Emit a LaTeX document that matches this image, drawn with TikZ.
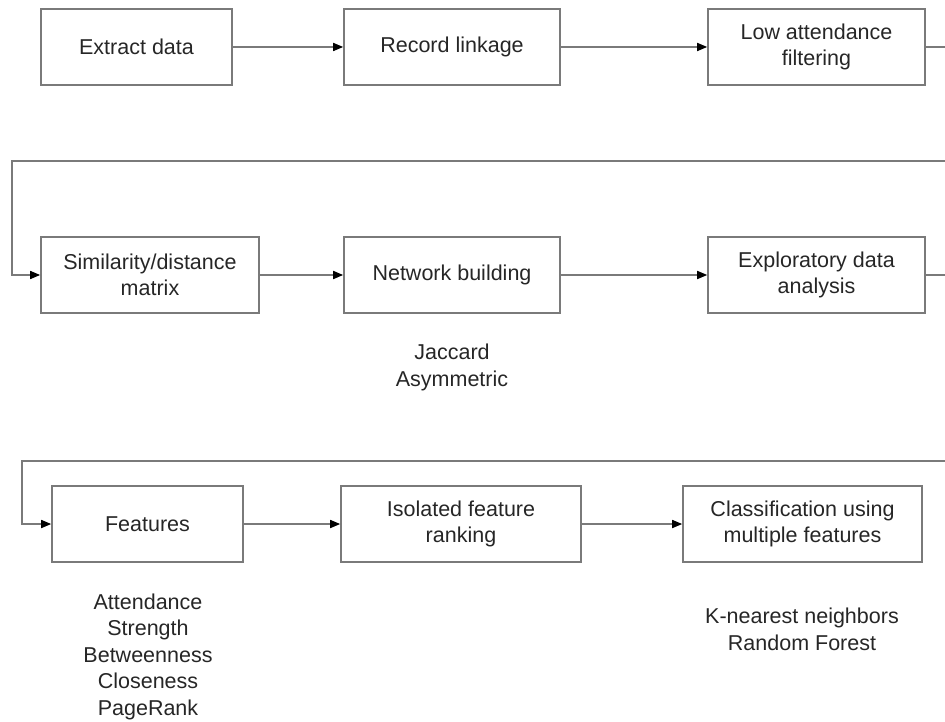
\documentclass[tikz,border=0pt]{standalone}
\usepackage{fontspec}
\setmainfont{Liberation Sans}
\usetikzlibrary{arrows.meta}
\definecolor{linegray}{HTML}{7A7A7A}
\begin{document}
\begin{tikzpicture}[x=1pt,y=-1pt,
  box/.style={draw=linegray,line width=1.6pt,minimum height=76pt,inner sep=0pt,align=center,
    font=\fontsize{21.5}{26.5}\selectfont,text=black!85},
  conn/.style={draw=linegray,line width=1.6pt},
  arr/.style={conn,-{Triangle[length=10pt,width=8pt,fill=black,color=black]}},
  lbl/.style={align=center,font=\fontsize{21.5}{26.5}\selectfont,text=black!85}]
\useasboundingbox (0,0) rectangle (945,722);
\clip (0,0) rectangle (945,722);
\node[box,minimum width=191pt] (b1) at (136.5,47) {Extract data};
\node[box,minimum width=216pt] (b2) at (452,47) {Record linkage};
\node[box,minimum width=217pt] (b3) at (816.5,47) {Low attendance\\filtering};
\node[box,minimum width=218pt] (b4) at (150,275) {Similarity/distance\\matrix};
\node[box,minimum width=216pt] (b5) at (452,275) {Network building};
\node[box,minimum width=217pt] (b6) at (816.5,275) {Exploratory data\\analysis};
\node[box,minimum width=191pt] (b7) at (147.5,524) {Features};
\node[box,minimum width=240pt] (b8) at (461,524) {Isolated feature\\ranking};
\node[box,minimum width=239pt] (b9) at (802.5,524) {Classification using\\multiple features};
\coordinate (r1) at (965,47);
\coordinate (l1) at (12,161);
\coordinate (r2) at (965,275);
\coordinate (l2) at (22,461);
\draw[arr] (b1) -- (b2);
\draw[arr] (b2) -- (b3);
\draw[arr] (b3.east) -- (r1) |- (l1) |- (b4.west);
\draw[arr] (b4) -- (b5);
\draw[arr] (b5) -- (b6);
\draw[arr] (b6.east) -- (r2) |- (l2) |- (b7.west);
\draw[arr] (b7) -- (b8);
\draw[arr] (b8) -- (b9);
\node[lbl] (t1) at (452,367.5) {Jaccard\\Asymmetric};
\node[lbl] (t2) at (148,656.5) {Attendance\\Strength\\Betweenness\\Closeness\\PageRank};
\node[lbl] (t3) at (802,629.5) {K-nearest neighbors\\Random Forest};
\end{tikzpicture}
\end{document}
